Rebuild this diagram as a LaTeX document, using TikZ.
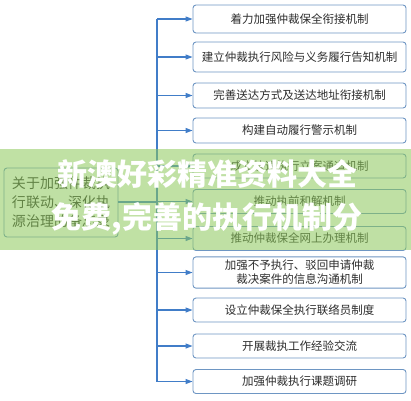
\documentclass[tikz,border=0pt]{standalone}
\usepackage{fontspec}
\setmainfont{Noto Sans CJK SC}
\usetikzlibrary{arrows.meta, positioning, calc}
\definecolor{boxline}{RGB}{110, 150, 195}
\definecolor{linkblue}{RGB}{65, 125, 200}
\definecolor{textgray}{RGB}{45, 45, 45}
\definecolor{bandgreen}{RGB}{140, 200, 90}
\begin{document}
\begin{tikzpicture}[x=1pt, y=-1pt,
    measure/.style={draw=boxline, line width=0.9pt, rounded corners=3pt, fill=white,
                 minimum width=213pt, minimum height=25pt, align=center, text=textgray,
                 font=\fontsize{11.5}{15}\selectfont},
    topic/.style={draw=boxline, line width=0.9pt, rounded corners=3pt, fill=white,
                 minimum width=114pt, minimum height=69pt, align=left, text=textgray,
                 font=\fontsize{14}{19}\selectfont},
    link/.style={linkblue, line width=1.1pt, -{Triangle[length=7pt, width=5pt]}}
]
    \useasboundingbox (0,0) rectangle (411,400);

    \node[topic] (doc) at (61,202.5) {关于加强仲裁执\\行联动、深化执\\源治理的备忘录};

    \node[measure, minimum height=28pt] (m1) at (299.5,19) {着力加强仲裁保全衔接机制};
    \node[measure, minimum height=30pt] (m2) at (299.5,57) {建立仲裁执行风险与义务履行告知机制};
    \node[measure] (m3) at (299.5,95.5) {完善送达方式及送达地址衔接机制};
    \node[measure] (m4) at (299.5,130.5) {构建自动履行警示机制};
    \node[measure, minimum height=24pt] (m5) at (299.5,166) {成立快速执行立案通道机制};
    \node[measure, minimum height=24pt] (m6) at (299.5,201.5) {推动执前和解机制};
    \node[measure, minimum height=24pt] (m7) at (299.5,238.5) {推动仲裁保全网上办理机制};
    \node[measure, minimum height=31pt, font=\fontsize{11.5}{14}\selectfont] (m8) at (299.5,272.5)
        {加强不予执行、驳回申请仲裁\\裁决案件的信息沟通机制};
    \node[measure, minimum height=24pt] (m9) at (299.5,310) {设立仲裁保全执行联络员制度};
    \node[measure, minimum height=24pt] (m10) at (299.5,346) {开展裁执工作经验交流};
    \node[measure, minimum height=24pt] (m11) at (299.5,381.5) {加强仲裁执行课题调研};

    \coordinate (trunk) at (157,202);

    % Trunk line
    \draw[linkblue, line width=1.1pt] (trunk |- m1) -- (trunk |- m11);
    \draw[linkblue, line width=1.1pt] (doc.east |- trunk) -- (trunk);

    % Arrows
    \draw[link] (trunk |- m1) -- (m1);
    \draw[link] (trunk |- m2) -- (m2);
    \draw[link] (trunk |- m3) -- (m3);
    \draw[link] (trunk |- m4) -- (m4);
    \draw[link] (trunk |- m5) -- (m5);
    \draw[link] (trunk |- m6) -- (m6);
    \draw[link] (trunk |- m7) -- (m7);
    \draw[link] (trunk |- m8) -- (m8);
    \draw[link] (trunk |- m9) -- (m9);
    \draw[link] (trunk |- m10) -- (m10);
    \draw[link] (trunk |- m11) -- (m11);

    % Overlay band
    \fill[bandgreen, fill opacity=0.55] (0,149) rectangle (411,250);
    \node[text=white, font=\bfseries\fontsize{30}{43}\selectfont, align=center] (banner) at (207,197)
        {新澳好彩精准资料大全\\免费,完善的执行机制分};
\end{tikzpicture}
\end{document}
